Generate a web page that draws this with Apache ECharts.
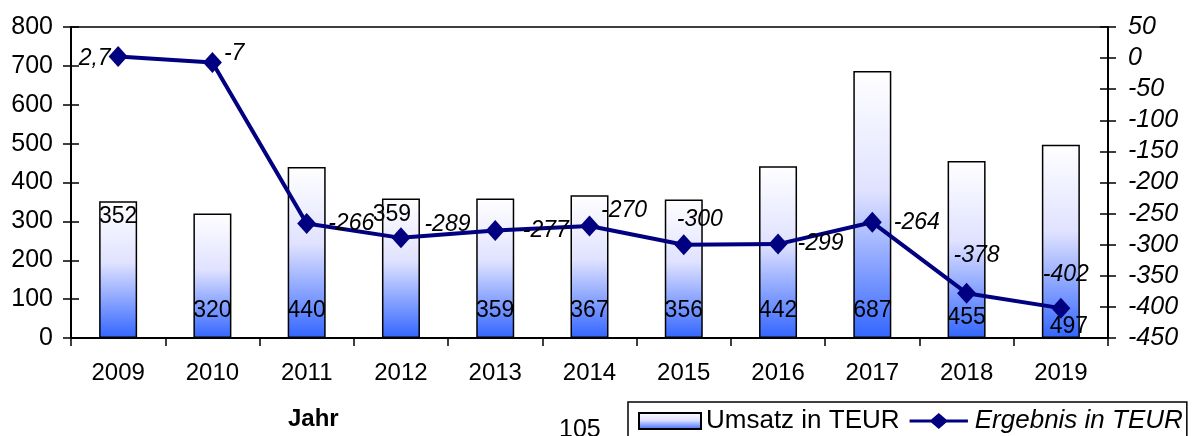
<!DOCTYPE html>
<html>
<head>
<meta charset="utf-8">
<script src="https://cdn.jsdelivr.net/npm/echarts@6/dist/echarts.min.js"></script>
<style>
  html, body { margin: 0; padding: 0; background: #fff; }
  #chart { width: 1198px; height: 436px; }
</style>
</head>
<body>
<div id="chart"></div>
<script>
const years = ['2009', '2010', '2011', '2012', '2013', '2014', '2015', '2016', '2017', '2018', '2019']
const umsatz = [352, 320, 440, 359, 359, 367, 356, 442, 687, 455, 497]
const ergebnis = [2.7, -7, -266, -289, -277, -270, -300, -299, -264, -378, -402]
const leftTicks = { min: 0, max: 800, interval: 100 }
const rightTicks = { min: -450, max: 50, interval: 50 }

const font = 'Liberation Sans'
const myChart = echarts.init(document.getElementById('chart'))

// where Excel put the value labels
function barLabel(i) {
  if (i === 0) return { position: 'insideTop', distance: 4 }
  if (i === 3) return { position: 'insideTop', distance: 5, offset: [-9, 0] }
  if (i === 9) return { position: 'insideBottom', distance: 9 }
  if (i === 10) return { position: 'insideBottom', distance: 0, offset: [8, 0] }
  return { position: 'insideBottom', distance: 16 }
}
function lineLabel(i) {
  switch (i) {
    case 0: return { position: 'left', distance: -2, offset: [0, 2] }
    case 1: return { position: 'right', distance: 2, offset: [0, -9] }
    case 2: return { position: 'right', distance: 12 }
    case 3: return { position: 'right', distance: 14, offset: [0, -13] }
    case 4: return { position: 'right', distance: 18 }
    case 5: return { position: 'right', distance: 2, offset: [0, -15] }
    case 6: return { position: 'top', distance: 3, offset: [16, 0] }
    case 7: return { position: 'right', distance: 10 }
    case 8: return { position: 'right', distance: 12 }
    case 9: return { position: 'top', distance: 16, offset: [10, 0] }
    default: return { position: 'top', distance: 12, offset: [5, 0] }
  }
}

const barFill = new echarts.graphic.LinearGradient(0, 0, 0, 1, [
  { offset: 0, color: '#ffffff' },
  { offset: 0.45, color: '#e0e2ff' },
  { offset: 1, color: '#3366ff' }
])

const option = {
  backgroundColor: '#fff',
  animation: false,
  grid: {
    left: 71,
    right: 90,
    top: 27,
    bottom: 98,
    show: true,
    borderColor: '#000',
    borderWidth: 1.5
  },
  legend: {
    left: 628,
    top: 402,
    padding: [6, 4, 20, 10],
    borderColor: '#000',
    borderWidth: 1.5,
    itemGap: 10,
    itemWidth: 62,
    itemHeight: 16,
    textStyle: { fontFamily: font, fontSize: 26, color: '#000' },
    data: [
      { name: 'Umsatz in TEUR', icon: 'rect' },
      {
        name: 'Ergebnis in TEUR',
        icon: 'path://M0,7 L23,7 L31,0 L39,7 L62,7 L62,10 L39,10 L31,17 L23,10 L0,10 Z',
        itemStyle: { color: '#000080' },
        textStyle: { fontStyle: 'italic' }
      }
    ]
  },
  xAxis: {
    type: 'category',
    data: years,
    boundaryGap: true,
    axisLine: { lineStyle: { color: '#000', width: 2 } },
    axisTick: { show: true, length: 8, lineStyle: { color: '#000', width: 1.5 } },
    axisLabel: { margin: 23, fontFamily: font, fontSize: 24, color: '#000' },
    splitLine: { show: false }
  },
  yAxis: [
    {
      type: 'value',
      position: 'left',
      min: leftTicks.min,
      max: leftTicks.max,
      interval: leftTicks.interval,
      axisLine: { show: true, lineStyle: { color: '#000', width: 2 } },
      axisTick: { show: true, length: 8, lineStyle: { color: '#000', width: 1.5 } },
      axisLabel: { margin: 18, fontFamily: font, fontSize: 25, color: '#000' },
      splitLine: { show: false }
    },
    {
      type: 'value',
      position: 'right',
      min: rightTicks.min,
      max: rightTicks.max,
      interval: rightTicks.interval,
      axisLine: { show: true, lineStyle: { color: '#000', width: 2 } },
      axisTick: { show: true, length: 8, lineStyle: { color: '#000', width: 1.5 } },
      axisLabel: { margin: 20, fontFamily: font, fontSize: 25, fontStyle: 'italic', color: '#000' },
      splitLine: { show: false }
    },
    // same scales again, only to draw the inner half of the crossing ticks
    {
      type: 'value',
      position: 'left',
      min: leftTicks.min,
      max: leftTicks.max,
      interval: leftTicks.interval,
      axisLine: { show: false },
      axisTick: { show: true, inside: true, length: 8, lineStyle: { color: '#000', width: 1.5 } },
      axisLabel: { show: false },
      splitLine: { show: false }
    },
    {
      type: 'value',
      position: 'right',
      min: rightTicks.min,
      max: rightTicks.max,
      interval: rightTicks.interval,
      axisLine: { show: false },
      axisTick: { show: true, inside: true, length: 8, lineStyle: { color: '#000', width: 1.5 } },
      axisLabel: { show: false },
      splitLine: { show: false }
    }
  ],
  series: [
    {
      name: 'Umsatz in TEUR',
      type: 'bar',
      yAxisIndex: 0,
      barWidth: 38,
      itemStyle: { color: barFill, borderColor: '#000', borderWidth: 1.5 },
      label: { show: true, fontFamily: font, fontSize: 23, color: '#000' },
      data: umsatz.map((v, i) => ({ value: v, label: barLabel(i) })),
      z: 2
    },
    {
      name: 'Ergebnis in TEUR',
      type: 'line',
      yAxisIndex: 1,
      symbol: 'diamond',
      symbolSize: [19, 21],
      lineStyle: { color: '#000080', width: 4 },
      itemStyle: { color: '#000080' },
      label: {
        show: true,
        fontFamily: font,
        fontSize: 23,
        fontStyle: 'italic',
        color: '#000',
        formatter: p => String(p.value).replace('.', ',')
      },
      data: ergebnis.map((v, i) => ({ value: v, label: lineLabel(i) })),
      z: 3
    }
  ],
  graphic: [
    {
      type: 'text',
      left: 288,
      top: 407,
      style: { text: 'Jahr', fontFamily: font, fontSize: 24, fontWeight: 'bold', fill: '#000' }
    },
    {
      type: 'text',
      left: 559,
      top: 418,
      style: { text: '105', fontFamily: font, fontSize: 25, fill: '#000' }
    }
  ]
}

myChart.setOption(option)
</script>
</body>
</html>
